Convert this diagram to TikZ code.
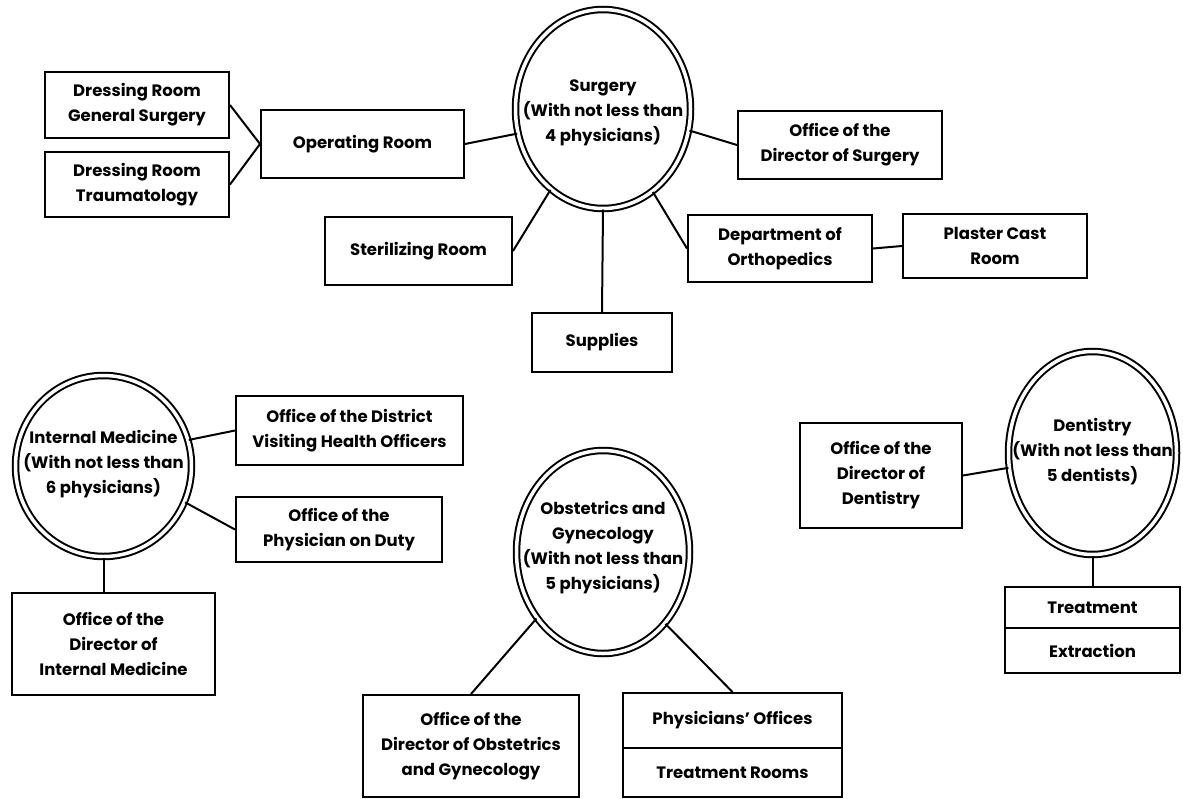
\documentclass[tikz,border=0pt]{standalone}
\usepackage{fontspec}
\setmainfont{Poppins}
\usetikzlibrary{shapes.geometric}
\tikzset{
  box/.style={draw, line width=2pt, rectangle, inner sep=0pt, align=center,
    font=\fontsize{16.5}{25}\selectfont\bfseries},
  dell/.style={draw, ellipse, double, line width=2pt, double distance=3.5pt, inner sep=0pt},
  etext/.style={align=center, inner sep=0pt, font=\fontsize{16.5}{25}\selectfont\bfseries},
  conn/.style={line width=2pt},
}
\begin{document}
\begin{tikzpicture}[x=1pt,y=-1pt]
\useasboundingbox (0,0) rectangle (1183,798);
% Surgery
\node[dell, minimum width=175pt, minimum height=199pt] (surg) at (603,109) {};
\node[etext] (surgT) at (603,113) {Surgery\\(With not less than\\4 physicians)};
\node[box, minimum width=184pt, minimum height=66pt] (drgs) at (137,105) {Dressing Room\\General Surgery};
\node[box, minimum width=184pt, minimum height=65pt] (drt) at (137,184.5) {Dressing Room\\Traumatology};
\node[box, minimum width=203pt, minimum height=68pt] (opr) at (362.5,144) {Operating Room};
\node[box, minimum width=204pt, minimum height=68pt] (dirsurg) at (840,145) {Office of the\\Director of Surgery};
\node[box, minimum width=187pt, minimum height=68pt] (ster) at (418.5,251) {Sterilizing Room};
\node[box, minimum width=140pt, minimum height=59pt] (supp) at (602,342.5) {Supplies};
\node[box, minimum width=184pt, minimum height=67pt] (ortho) at (780,248.5) {Department of\\Orthopedics};
\node[box, minimum width=184pt, minimum height=64pt] (plast) at (995,246) {Plaster Cast\\Room};
\draw[conn] (drgs.east) -- (opr.west);
\draw[conn] (drt.east) -- (opr.west);
\draw[conn] (surg.196) -- (opr.east);
\draw[conn] (surg.346) -- (dirsurg.west);
\draw[conn] (surg.237) -- (ster.east);
\draw[conn] (surg.south) -- (supp.north);
\draw[conn] (surg.301) -- (ortho.west);
\draw[conn] (ortho.east) -- (plast.west);
% Internal medicine
\node[dell, minimum width=176pt, minimum height=181pt] (intm) at (103.5,466) {};
\node[etext] (intmT) at (103.5,464) {Internal Medicine\\(With not less than\\6 physicians)};
\node[box, minimum width=227pt, minimum height=69pt] (dvho) at (349.5,430.5) {Office of the District\\Visiting Health Officers};
\node[box, minimum width=206pt, minimum height=65pt] (duty) at (339,529.5) {Office of the\\Physician on Duty};
\node[box, minimum width=203pt, minimum height=102pt] (dirim) at (113.5,644) {Office of the\\Director of\\Internal Medicine};
\draw[conn] (intm.17) -- (dvho.west);
\draw[conn] (intm.336) -- (duty.west);
\draw[conn] (intm.south) -- (intm.south |- dirim.north);
% Obstetrics
\node[dell, minimum width=173pt, minimum height=203pt] (obst) at (603,552) {};
\node[etext] (obstT) at (603,548) {Obstetrics and\\Gynecology\\(With not less than\\5 physicians)};
\node[box, minimum width=216pt, minimum height=102pt] (dirob) at (471,746) {Office of the\\Director of Obstetrics\\and Gynecology};
\node[box, minimum width=219pt, minimum height=55pt] (phys) at (732.5,720.5) {Physicians' Offices};
\node[box, minimum width=219pt, minimum height=49pt] (trm) at (732.5,772.5) {Treatment Rooms};
\draw[conn] (obst.225) -- (dirob.north);
\draw[conn] (obst.311) -- (phys.north);
% Dentistry
\node[dell, minimum width=168pt, minimum height=203pt] (dent) at (1092.5,453) {};
\node[etext] (dentT) at (1092.5,452) {Dentistry\\(With not less than\\5 dentists)};
\node[box, minimum width=162pt, minimum height=105pt] (dirdent) at (881,475.5) {Office of the\\Director of\\Dentistry};
\node[box, minimum width=175pt, minimum height=41pt] (treat) at (1092.5,607.5) {Treatment};
\node[box, minimum width=175pt, minimum height=45pt] (extr) at (1092.5,650.5) {Extraction};
\draw[conn] (dent.190) -- (dirdent.east);
\draw[conn] (dent.south) -- (treat.north);
\end{tikzpicture}
\end{document}
